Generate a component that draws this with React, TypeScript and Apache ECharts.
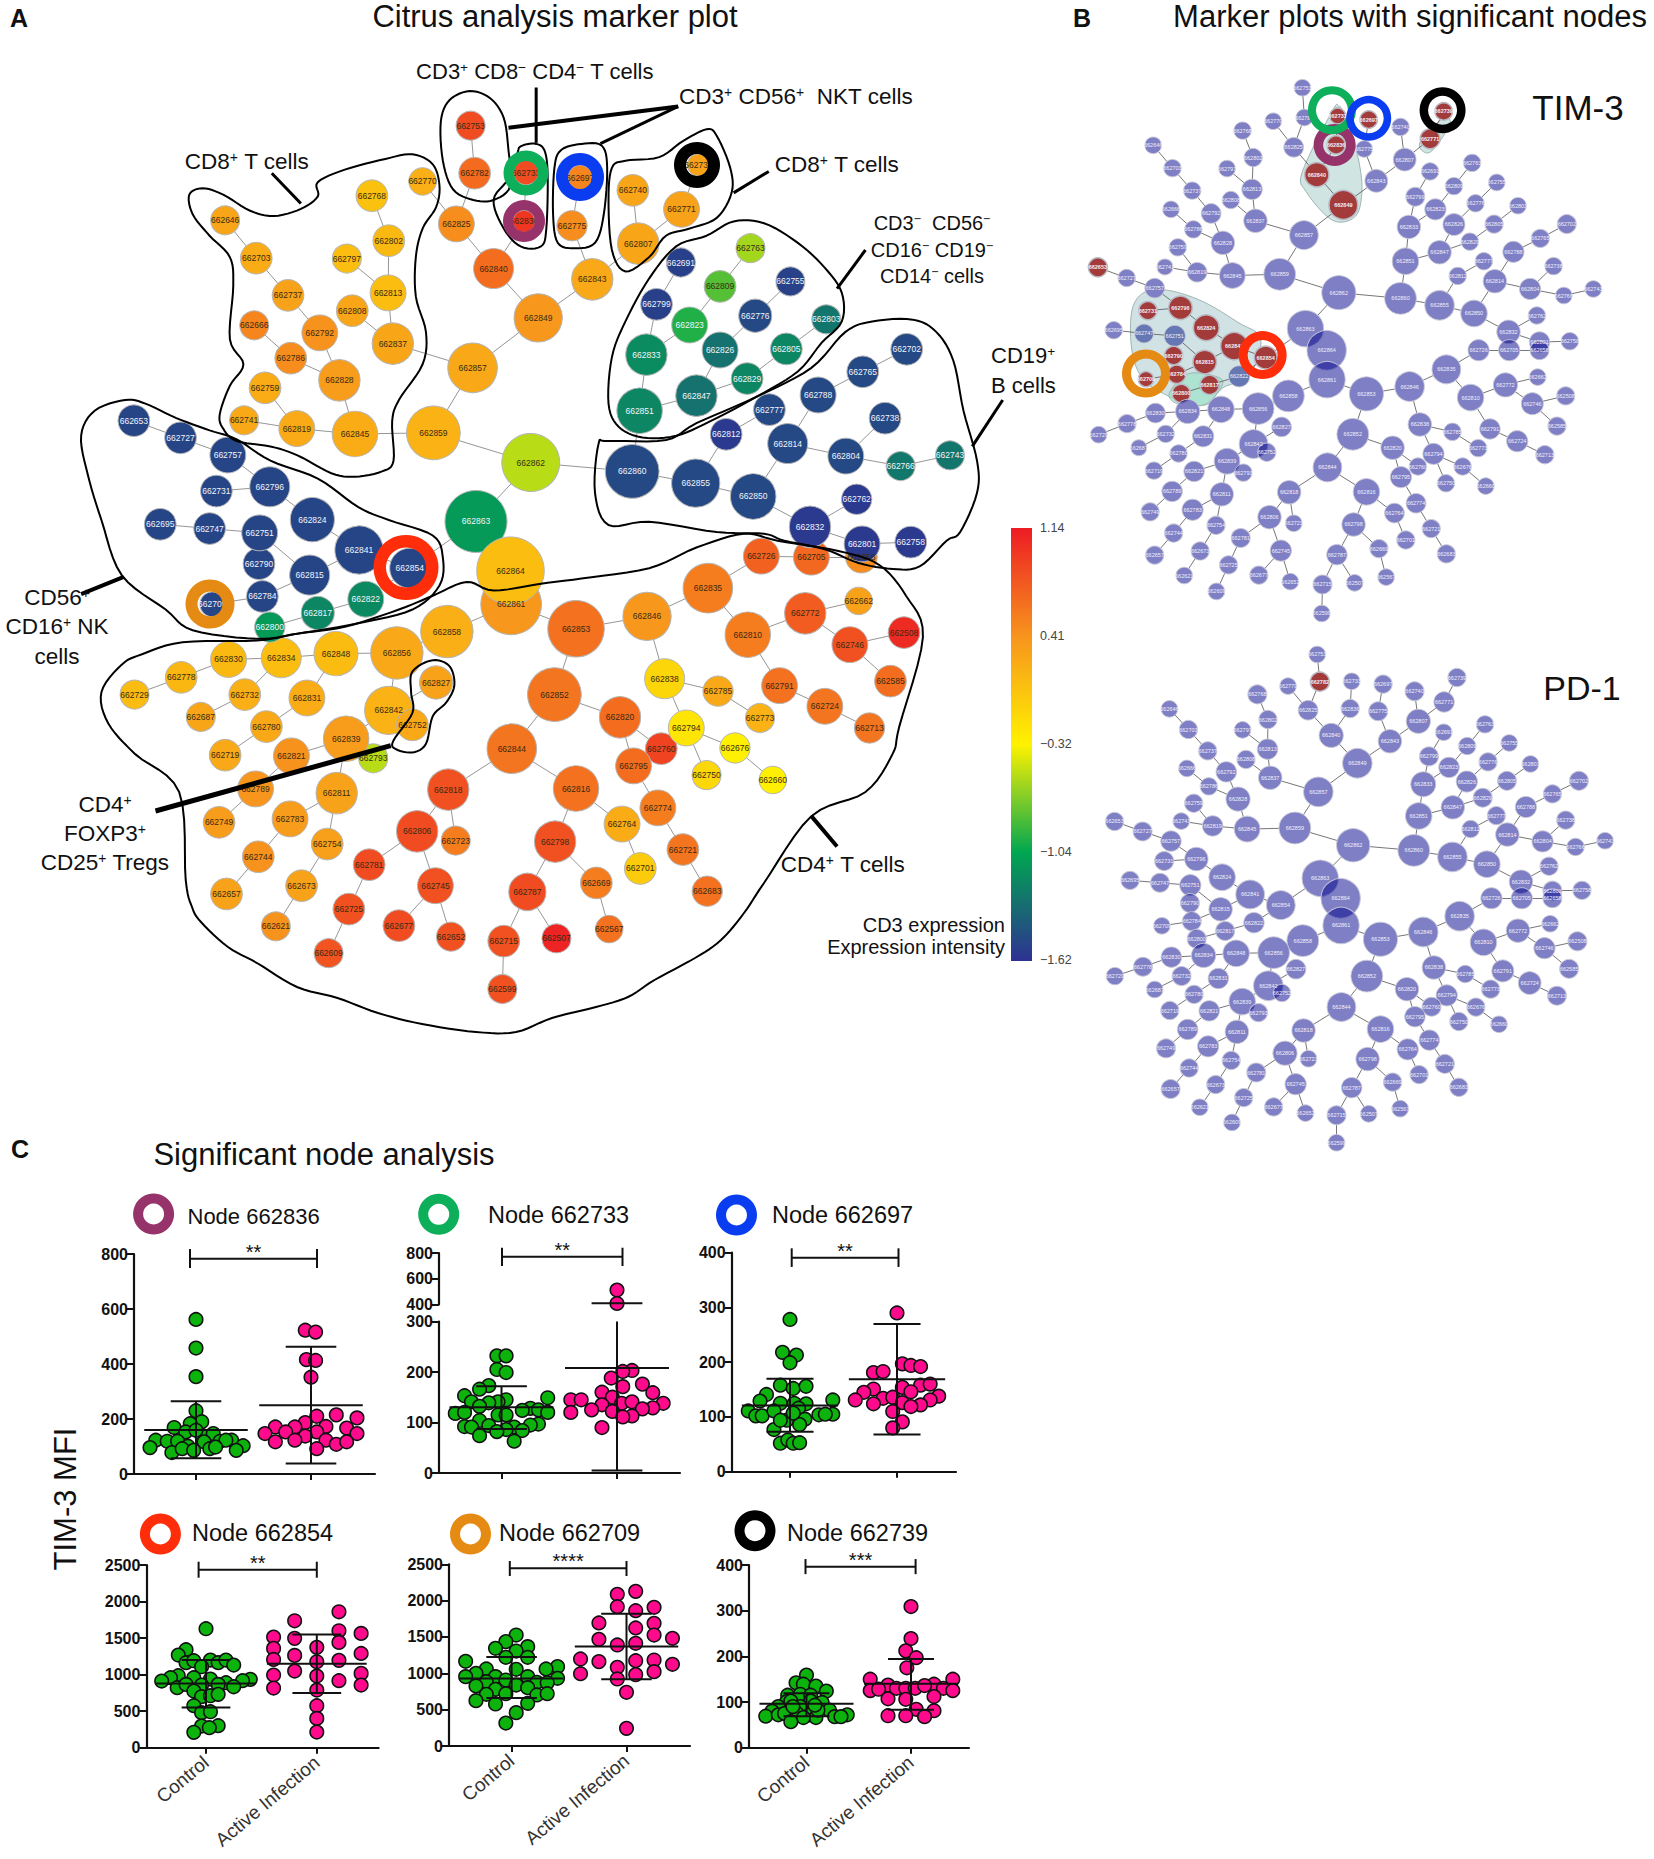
import React, { useEffect, useRef } from "react";
import * as echarts from "echarts";

const FONT = '"Liberation Sans", Arial, sans-serif';

// ---- network: short id (662000 + n), layout x, layout y, diameter, CD3 expression
const nodesUpperA: number[][] = [
  [753,696,352,42,0.85],[782,702,485,46,0.66],[733,778,483,36,0.85],[836,775,620,32,0.98],[697,858,497,36,0.5],[775,846,632,44,0.45],
  [770,625,508,40,0.2],[825,675,627,52,0.45],[840,730,752,58,0.65],[843,876,782,60,0.25],[849,796,890,70,0.38],[807,944,682,60,0.28],
  [740,936,533,46,0.28],[771,1008,586,52,0.3],[739,1033,462,32,0.3],[763,1110,695,42,-0.58],[691,1007,735,42,-1.55],[809,1065,802,46,-0.8],
  [755,1169,788,42,-1.54],[799,971,852,46,-1.55],[776,1117,884,48,-1.5],[803,1222,894,42,-1.28],[823,1020,910,52,-0.95],[833,956,993,60,-1.17],
  [826,1065,980,52,-1.3],[805,1163,977,46,-1.2],[829,1105,1060,46,-1.2],[847,1030,1108,60,-1.3],[851,946,1150,66,-1.2],[702,1341,978,46,-1.5],
  [765,1276,1041,46,-1.5],[788,1210,1106,52,-1.5],[738,1309,1171,46,-1.5],[777,1138,1147,46,-1.5],[812,1074,1216,46,-1.58],[814,1165,1242,58,-1.5],
  [804,1251,1277,52,-1.5],[766,1332,1305,42,-1.27],[743,1405,1275,42,-1.28],[860,935,1320,78,-1.5],[855,1029,1353,70,-1.5],[850,1114,1390,66,-1.5],
  [762,1267,1398,44,-1.58],[832,1198,1475,60,-1.58],[801,1275,1523,52,-1.58],[758,1347,1518,46,-1.58],[862,785,1295,84,-0.52],[859,641,1212,78,0.18],
  [857,699,1030,72,0.25],[845,525,1215,66,0.22],[819,439,1200,52,0.24],[741,361,1177,42,0.25],[759,392,1086,46,0.22],[828,502,1065,60,0.35],
  [786,430,1003,46,0.45],[792,473,932,52,0.42],[666,376,911,42,0.5],[737,426,827,46,0.3],[703,379,723,46,0.22],[646,333,617,42,0.28],
  [837,581,962,60,0.28],[808,521,870,46,0.28],[813,574,820,52,0.08],[797,513,724,42,0.08],[802,575,674,46,0.12],[768,550,548,46,0.06],
  [653,198,1178,46,-1.52],[727,267,1226,46,-1.52],[757,337,1274,52,-1.52],[731,320,1375,46,-1.52],[796,399,1363,58,-1.52],[695,237,1468,46,-1.52],
  [747,310,1480,46,-1.52],[751,384,1492,52,-1.52],[824,462,1455,64,-1.52],[841,531,1540,70,-1.52],
];
const nodesLowerA: number[][] = [
  [658,1274,108,46,0.45],[726,1126,105,52,0.72],[705,1200,108,52,0.68],[861,756,245,88,0.38],[853,852,316,82,0.62],[858,661,324,76,0.2],
  [856,587,386,76,0.25],[848,497,388,64,0.1],[834,416,400,58,0.08],[830,338,405,52,0.12],[778,268,457,46,0.14],[729,199,507,42,0.1],
  [732,362,507,46,0.2],[831,454,517,52,0.22],[687,297,572,42,0.28],[780,394,600,46,0.25],[719,333,683,46,0.25],[821,431,685,52,0.42],
  [793,552,692,42,-0.52],[842,575,553,70,0.18],[827,645,472,48,0.3],[752,610,595,46,0.25],[839,512,635,66,0.35],[789,378,781,52,0.4],
  [811,498,793,60,0.3],[749,324,878,46,0.35],[783,429,868,52,0.35],[744,382,978,46,0.42],[754,484,941,46,0.32],[657,335,1086,46,0.3],
  [673,446,1062,46,0.3],[621,408,1180,42,0.42],[844,757,664,72,0.6],[852,820,507,78,0.6],[820,917,573,60,0.65],[760,978,664,46,0.9],
  [795,937,714,52,0.65],[818,663,783,60,0.82],[816,852,780,66,0.62],[806,617,904,60,0.85],[723,674,931,42,0.55],[781,546,1001,46,0.85],
  [745,644,1062,52,0.82],[725,516,1130,46,0.82],[677,590,1178,46,0.85],[652,667,1210,42,0.82],[609,486,1258,42,0.8],[798,821,934,60,0.82],
  [764,920,883,52,0.22],[774,973,836,52,0.55],[701,947,1012,46,-0.02],[721,1010,957,46,0.6],[669,882,1054,46,0.55],[683,1046,1078,44,0.62],
  [787,780,1080,54,0.85],[567,901,1188,40,0.62],[715,745,1223,46,0.82],[507,823,1215,42,1.1],[599,743,1362,42,0.82],[846,957,280,70,0.38],
  [838,983,461,58,-0.1],[785,1062,497,44,0.25],[794,1015,604,52,-0.22],[773,1124,575,42,0.18],[676,1087,662,44,-0.3],[750,1045,741,42,-0.12],
  [660,1143,755,40,-0.3],[835,1047,198,72,0.55],[810,1106,333,66,0.55],[772,1191,271,60,0.75],[662,1270,235,40,0.3],[746,1257,362,52,0.82],
  [508,1337,327,46,1.05],[585,1317,468,46,0.65],[791,1153,481,52,0.62],[724,1220,541,52,0.6],[713,1286,604,44,0.6],[854,606,140,58,-1.52],
  [790,383,127,46,-1.52],[815,458,160,58,-1.52],[784,388,222,46,-1.52],[709,314,245,36,-1.52],[817,470,270,48,-1.2],[822,541,230,52,-1.18],[800,399,311,44,-1.1],
];
const nodesLastA: number[][] = [[863,704,1460,90,-1.1],[864,755,1598,98,0.08]];

const nodesTim3: number[][] = [
  [753,640,215,44],[782,645,288,44],[733,733,284,42],[697,815,293,46],[739,1013,273,46],[771,977,340,52],[770,563,297,44],[768,482,320,46],[646,246,356,44],
  [703,297,412,46],[802,510,386,48],[797,441,413,44],[825,617,361,52],[836,729,355,48],[775,803,365,44],[740,899,311,46],[807,910,391,60],[843,835,443,60],
  [840,678,428,64],[849,748,502,76],[737,349,467,46],[813,507,464,54],[808,451,490,46],[666,293,513,44],[792,399,523,52],[837,516,541,62],[786,352,562,46],
  [828,430,595,62],[857,644,576,76],[759,311,606,46],[741,277,654,42],[819,362,667,52],[845,455,675,68],[859,580,672,84],[653,100,655,50],[727,176,681,46],
  [757,250,706,52],[731,232,761,48],[796,318,754,62],[695,142,809,46],[747,222,817,50],[751,303,823,56],[824,386,803,68],[841,460,848,72],[854,543,876,60],
  [790,300,871,48],[815,382,887,62],[784,308,917,48],[709,227,929,40],[817,395,943,50],[800,320,964,48],[822,473,922,56],[862,736,717,90],[860,899,731,84],
  [851,912,640,70],[833,921,556,62],[799,938,482,50],[691,977,420,46],[823,991,513,56],[809,1040,456,46],[763,1088,399,46],[847,1002,618,62],[826,1040,550,58],
  [776,1097,498,46],[755,1153,447,44],[829,1082,592,46],[805,1146,549,48],[803,1209,504,44],[702,1338,549,50],[765,1268,584,48],[788,1197,617,56],[777,1119,640,46],
  [812,1050,676,46],[855,1002,748,78],[814,1148,689,62],[850,1093,768,70],[804,1241,708,56],[738,1303,652,46],[766,1330,724,44],[743,1408,708,44],[762,1259,773,46],
  [832,1184,813,62],[801,1266,838,54],[758,1346,836,46],[658,1266,858,50],[705,1186,858,56],[726,1105,858,56],[835,1020,905,76],[846,923,947,78],[853,809,965,90],
  [810,1084,974,70],[772,1176,943,64],[662,1261,924,44],[746,1247,989,58],[508,1335,970,48],[585,1312,1044,48],[791,1135,1051,54],[724,1207,1081,56],[713,1280,1114,48],
  [858,603,970,84],[856,523,1001,84],[848,425,1003,70],[834,337,1008,64],[830,252,1012,52],[778,177,1038,48],[729,102,1065,44],[732,279,1063,46],[687,208,1097,42],
  [831,378,1069,56],[780,313,1111,46],[719,248,1153,46],[821,354,1155,54],[842,511,1088,76],[827,585,1046,52],[752,546,1108,48],[839,441,1130,68],[793,484,1158,46],
  [789,296,1204,54],[811,427,1211,62],[749,238,1254,48],[783,350,1249,56],[744,300,1306,48],[754,412,1287,48],[657,250,1360,48],[673,370,1350,48],[621,328,1410,44],
  [852,773,1064,84],[820,878,1097,62],[844,706,1145,76],[818,605,1206,62],[816,809,1205,70],[806,553,1267,62],[723,617,1282,44],[781,477,1318,50],[745,583,1349,56],
  [725,445,1384,48],[677,525,1409,48],[652,608,1425,44],[609,413,1449,44],[798,775,1285,62],[764,883,1257,52],[774,940,1233,52],[701,913,1323,48],[721,980,1295,48],
  [669,842,1344,48],[683,1020,1357,48],[787,731,1359,54],[567,861,1414,44],[715,693,1432,50],[507,778,1428,44],[599,691,1503,44],[838,950,1040,62],[785,1036,1058,46],
  [794,986,1112,56],[773,1104,1098,46],[676,1063,1143,46],[750,1019,1184,46],[660,1124,1191,44],[760,945,1143,46],[795,900,1169,56],[863,648,805,96],[864,704,858,104],[861,705,930,96],
];
const nodesPd1: number[][] = [
  [753,679,42,44],[782,686,121,50],[770,602,134,44],[733,770,120,44],[836,766,199,48],[697,853,128,48],[775,840,207,50],[739,1048,109,48],[740,936,149,50],[771,1014,180,54],
  [807,946,236,64],[843,871,294,62],[825,655,204,52],[840,716,277,64],[849,785,358,78],[768,521,158,50],[802,549,231,48],[797,482,261,44],[646,289,200,44],[703,339,260,48],
  [737,390,322,48],[813,548,317,54],[808,491,347,48],[666,335,373,44],[792,439,383,54],[786,393,425,46],[837,555,400,62],[828,470,462,64],[857,682,441,78],[759,353,474,48],
  [741,320,526,44],[819,403,540,54],[845,494,549,68],[859,620,546,84],[653,144,527,48],[727,218,556,50],[757,293,584,54],[731,275,642,50],[796,360,636,62],[695,185,698,48],
  [747,264,705,50],[751,344,712,56],[824,428,689,70],[841,502,739,76],[854,583,770,76],[790,343,764,50],[815,424,782,62],[784,348,817,50],[709,269,830,44],[817,436,845,50],
  [800,361,868,50],[822,512,821,54],[862,774,596,88],[860,934,611,84],[851,947,511,70],[833,959,419,66],[799,974,338,50],[691,1013,268,44],[823,1027,370,54],[809,1075,308,46],
  [763,1122,245,46],[847,1037,486,62],[826,1074,411,56],[776,1130,354,48],[755,1186,299,44],[829,1116,458,50],[805,1180,409,50],[803,1242,360,44],[702,1370,409,50],[765,1300,447,48],
  [788,1230,485,56],[777,1152,510,48],[812,1084,549,46],[855,1036,630,78],[814,1181,565,62],[850,1127,651,70],[804,1274,585,56],[738,1335,523,48],[766,1361,601,46],[743,1439,583,44],
  [762,1291,657,48],[832,1217,702,62],[801,1300,728,50],[758,1378,727,48],[658,1300,750,50],[705,1219,750,56],[726,1139,750,56],[835,1055,802,78],[846,959,848,78],[853,846,869,90],
  [810,1118,878,70],[772,1209,844,62],[662,1294,824,44],[746,1279,895,56],[508,1366,875,50],[585,1344,955,50],[791,1169,961,58],[724,1240,996,60],[713,1312,1033,50],[858,641,873,84],
  [856,564,908,84],[848,465,910,70],[834,379,916,64],[830,294,921,54],[778,219,949,50],[729,145,976,46],[732,321,976,50],[687,250,1015,44],[831,418,983,54],[780,354,1029,48],
  [719,290,1076,48],[821,394,1077,54],[842,550,1004,78],[827,623,956,52],[752,586,1025,46],[839,481,1050,70],[793,524,1082,48],[789,337,1131,54],[811,467,1138,62],[749,280,1186,50],
  [783,391,1180,56],[744,341,1243,48],[754,452,1221,48],[657,292,1304,50],[673,411,1291,48],[621,369,1357,44],[852,810,976,84],[820,916,1014,62],[844,743,1066,76],[818,643,1134,62],
  [816,846,1130,70],[806,594,1200,64],[723,656,1216,44],[781,518,1256,50],[745,622,1290,56],[725,485,1329,48],[677,564,1356,48],[652,648,1374,44],[609,454,1401,44],[798,812,1217,62],
  [764,918,1189,56],[774,975,1162,54],[701,948,1262,48],[721,1016,1231,50],[669,878,1284,48],[683,1053,1299,48],[787,770,1300,54],[567,898,1361,44],[715,730,1380,50],[507,815,1376,44],
  [599,730,1460,44],[838,987,951,62],[785,1070,970,46],[794,1021,1032,56],[773,1137,1014,48],[676,1098,1066,48],[750,1053,1108,48],[660,1159,1116,44],[760,981,1065,50],[795,937,1094,54],
  [863,687,692,96],[864,741,750,104],[861,742,829,96],
];
const treeEdges: [number, number[]][] = [
  [862,[859,860,863]],[863,[854,864]],[864,[861]],[859,[857,845]],[857,[849,837]],[849,[843,840]],[843,[807,775]],[807,[740,771]],[771,[739]],[775,[697]],
  [840,[825,836]],[825,[770,782]],[782,[753]],[836,[733]],[837,[813,808]],[813,[802,797]],[802,[768]],[845,[819,828]],[819,[741,759]],[828,[786,792]],
  [786,[666]],[792,[737]],[737,[703]],[703,[646]],[860,[851,855]],[851,[833,847]],[833,[799,823]],[799,[691]],[823,[809]],[809,[763]],[847,[826,829]],
  [826,[776]],[776,[755]],[829,[805]],[805,[803]],[855,[850,812]],[812,[777]],[850,[814,832]],[814,[788,804]],[788,[765]],[765,[702]],[804,[738,766]],
  [766,[743]],[832,[762,801]],[801,[758]],[854,[841,822]],[841,[824,815]],[824,[796]],[796,[757,731]],[757,[727]],[727,[653]],[815,[751,784]],[751,[747,790]],
  [747,[695]],[784,[709]],[822,[817]],[817,[800]],[861,[858,853]],[858,[856]],[856,[848,842]],[848,[834,831]],[834,[830,732]],[830,[778]],[778,[729]],[732,[687]],
  [831,[780]],[780,[719]],[842,[827,752,839]],[839,[793,821,811]],[821,[789]],[789,[749]],[811,[783,754]],[783,[744]],[744,[657]],[754,[673]],[673,[621]],
  [853,[846,852]],[852,[844,820]],[844,[818,816]],[818,[806,723]],[806,[781,745]],[781,[725]],[725,[609]],[745,[677,652]],[816,[798,764]],[798,[787,669]],
  [787,[715,507]],[715,[599]],[669,[567]],[764,[701]],[820,[760,795]],[795,[774]],[774,[721]],[721,[683]],[846,[835,838]],[838,[785,794]],[785,[773]],[794,[676,750]],
  [676,[660]],[835,[726,810]],[726,[705]],[705,[658]],[810,[772,791]],[772,[662,746]],[746,[508,585]],[791,[724]],[724,[713]],
];
const tim3Significant = [653,733,697,739,771,836,840,849,731,796,824,841,854,790,815,784,709,817,800];
const tim3Shaded = [747,751,822];
const pd1Significant = [782];

// ---- colour scale
const colorTicks = [1.14, 0.41, -0.32, -1.04, -1.62];
const colorTickLabels = ["1.14", "0.41", "\u22120.32", "\u22121.04", "\u22121.62"];
const colorStops = ["#ED1C24", "#F7941D", "#FFF200", "#00A651", "#2E3192"];

// ---- panel C values: [x offset in the swarm, MFI]
const p1Control = [[0,562],[0,458],[0,354],[0,230],[.05,190],[-.05,183],[-.19,169],[-.09,153],[.05,141],[0,159],[.15,147],[-.35,123],[-.25,119],[-.16,119],[-.07,101],[.07,117],[.21,119],[.31,123],[.26,123],[-.4,96],[.41,103],[.35,86],[-.21,78],[-.12,92],[-.02,86],[.12,92],[.17,98]];
const p1Active = [[-.05,523],[.04,516],[-.04,416],[.04,413],[0,352],[.22,215],[.05,210],[.4,204],[-.05,187],[-.31,171],[-.14,171],[.13,173],[.31,167],[-.22,153],[.05,153],[-.05,138],[-.4,147],[.4,147],[-.31,117],[-.14,123],[.13,123],[.22,108],[.31,117],[.05,92]];
const p2Control = [[-.04,232],[.04,232],[-.04,205],[.04,199],[-.11,173],[-.19,166],[-.32,153],[.4,149],[-.26,141],[.04,145],[-.03,141],[-.11,139],[-.19,132],[.25,128],[.32,125],[.18,124],[-.4,118],[-.32,120],[.4,120],[-.03,115],[.04,115],[-.19,104],[.32,97],[.25,95],[-.32,92],[-.26,91],[-.11,94],[.11,91],[.04,86],[-.04,82],[.18,84],[-.19,74],[.11,63]];
const p2Active = [[.13,203],[.05,201],[-.05,188],[.22,176],[.05,171],[.31,159],[-.13,160],[-.04,150],[-.4,145],[-.31,145],[-.13,135],[.04,138],[.13,141],[.4,138],[.31,129],[.22,127],[-.22,125],[-.4,120],[-.04,122],[.13,113],[.05,111],[-.13,90]];
const p2ActiveHigh = [[0,512],[0,408]];
const p3Control = [[0,278],[-.07,218],[.06,213],[0,199],[-.09,158],[.03,152],[.15,156],[-.22,141],[-.28,129],[.4,131],[-.09,125],[.04,125],[.15,124],[-.39,111],[-.32,102],[-.26,102],[-.15,111],[.08,116],[.27,104],[.4,105],[.33,105],[.14,96],[-.03,94],[.09,86],[-.15,77],[-.09,52],[-.02,58],[.03,52],[.09,53],[-.09,94],[.03,107]];
const p3Active = [[0,290],[.05,197],[.13,194],[.22,192],[-.22,181],[-.13,183],[.22,158],[.31,160],[.05,154],[.13,146],[-.22,151],[-.31,145],[.39,138],[.31,131],[-.39,131],[-.13,134],[-.04,136],[-.22,124],[.05,126],[.22,122],[.13,119],[-.04,110],[.05,91],[-.04,80]];
const p4Control = [[0,1628],[-.18,1341],[-.25,1268],[-.18,1163],[-.11,1190],[.04,1199],[.11,1163],[.18,1199],[.25,1131],[-.04,1108],[-.25,985],[-.32,958],[-.4,912],[-.11,958],[.04,939],[.4,935],[.33,917],[.18,889],[-.26,821],[-.18,866],[-.04,857],[.11,866],[.25,834],[-.11,775],[-.04,698],[.04,711],[.11,730],[-.11,575],[-.04,479],[.04,492],[-.04,296],[.11,301],[.03,274],[-.11,210]];
const p4Active = [[.2,1860],[-.2,1737],[.2,1600],[.4,1564],[-.39,1514],[-.2,1496],[.2,1441],[0,1373],[-.39,1359],[.4,1290],[-.2,1263],[-.39,1208],[0,1176],[.2,1195],[-.2,1049],[.4,1017],[-.39,994],[0,980],[.2,917],[.4,857],[-.39,816],[0,789],[0,575],[0,401],[0,214]];
const p5Control = [[.04,1527],[-.05,1436],[.14,1367],[-.14,1344],[.04,1307],[-.05,1220],[.14,1220],[-.4,1165],[.4,1092],[-.22,1060],[.04,1055],[.3,1060],[-.31,1000],[-.4,954],[-.14,954],[.14,954],[.4,931],[-.22,885],[-.05,908],[.04,839],[.22,876],[.31,871],[-.31,826],[-.14,780],[.14,803],[-.22,711],[-.05,720],[.22,702],[.31,720],[-.31,624],[-.14,578],[.14,587],[.04,459],[-.05,316]];
const p5Active = [[.08,2128],[-.08,2087],[-.08,1917],[.08,1862],[.24,1908],[-.24,1693],[.24,1688],[.08,1624],[.24,1527],[-.24,1468],[.4,1482],[-.08,1390],[.08,1413],[-.4,1197],[-.24,1161],[.08,1174],[.24,1183],[.4,1124],[-.08,1083],[-.4,995],[.08,982],[.24,1023],[-.08,922],[0,739],[0,243]];
const p6Control = [[0,159],[-.1,142],[-.03,139],[.09,135],[.19,124],[-.18,115],[-.06,117],[.04,115],[-.19,101],[-.15,102],[.04,102],[.15,99],[-.27,90],[-.06,90],[.22,82],[-.33,80],[-.39,69],[-.27,72],[-.21,75],[-.09,75],[.03,72],[.09,66],[-.03,66],[.27,68],[.39,72],[-.15,57],[.33,68],[.11,82],[-.13,90],[.08,93]];
const p6Active = [[0,309],[0,239],[-.05,212],[.05,197],[-.04,175],[-.39,150],[.4,150],[-.22,137],[.22,139],[-.39,125],[-.31,128],[-.14,130],[-.05,130],[.04,130],[.13,136],[.31,130],[.4,125],[-.22,107],[-.05,106],[.22,112],[.05,84],[.22,81],[-.22,70],[-.05,70],[.13,68]];

const groupNames = ["Control", "Active Infection"];

// ---- panel C layout
const panels = [
  { node: "Node 662836", ring: "#96336B", stars: "**", ctrl: p1Control, act: p1Active, stats: [[160,265,57],[250,463,38]], left: 134, right: 375, top: 1254, bottom: 1474, t1: 196, t2: 311, max: 800, step: 200, bracket: [190,317,783,818,749], ringAt: [153.6,1214], textAt: [187.5,1216], labels: false },
  { node: "Node 662733", ring: "#0DAF5A", stars: "**", ctrl: p2Control, act: p2Active, stats: [[130,172,87],[208,300,5]], left: 439, right: 680, top: 1321.5, bottom: 1473, t1: 501.5, t2: 617, max: 300, step: 100, bracket: null, ringAt: [438.7,1214.3], textAt: [488,1215], labels: false },
  { node: "Node 662697", ring: "#0A3CF0", stars: "**", ctrl: p3Control, act: p3Active, stats: [[121,170,73],[169,270,68]], left: 731.6, right: 956, top: 1252.7, bottom: 1471.7, t1: 790, t2: 897, max: 400, step: 100, bracket: [791.7,898.5,391,408,374], ringAt: [736.5,1215], textAt: [772,1215], labels: false },
  { node: "Node 662854", ring: "#FF2D0A", stars: "**", ctrl: p4Control, act: p4Active, stats: [[880,1200,550],[1150,1550,750]], left: 146.4, right: 378.6, top: 1565, bottom: 1747.7, t1: 206, t2: 316.8, max: 2500, step: 500, bracket: [198.6,316.8,2436,2545,2326], ringAt: [160.4,1534], textAt: [192,1533], labels: true },
  { node: "Node 662709", ring: "#E58A12", stars: "****", ctrl: p5Control, act: p5Active, stats: [[930,1225,660],[1370,1820,920]], left: 449, right: 690, top: 1564.3, bottom: 1746, t1: 511.6, t2: 626.5, max: 2500, step: 500, bracket: [509.8,626.5,2445,2545,2339], ringAt: [470.5,1534], textAt: [499,1533], labels: true },
  { node: "Node 662739", ring: "#000000", stars: "***", ctrl: p6Control, act: p6Active, stats: [[96,119,69],[140,194,83]], left: 749, right: 969, top: 1565, bottom: 1747.7, t1: 806.5, t2: 911, max: 400, step: 100, bracket: [805.5,915.6,396,413,380], ringAt: [755,1530.7], textAt: [787,1533], labels: true },
];

const U = (x: number, y: number) => [x / 1.479, y / 2.8];
const L = (x: number, y: number) => [x / 1.479, 520 + y / 2.904];
const zU = (pts: number[][]) => pts.map((p) => U(p[0], p[1]));
const zL = (pts: number[][]) => pts.map((p) => L(p[0], p[1]));
const zB = (pts: number[][]) => pts.map((p) => [1060 + p[0] / 2.64, p[1] / 2.45]);

// closed curve through every outline point
const closedCurve = (pts: number[][]) => {
  const out: number[][] = [];
  const n = pts.length;
  for (let i = 0; i < n; i++) {
    const p0 = pts[(i + n - 1) % n], p1 = pts[i], p2 = pts[(i + 1) % n], p3 = pts[(i + 2) % n];
    for (let k = 0; k < 6; k++) {
      const t = k / 6, t2 = t * t, t3 = t2 * t;
      const f = (a: number, b: number, c: number, d: number) => 0.5 * (2 * b + (c - a) * t + (2 * a - 5 * b + 4 * c - d) * t2 + (3 * b - a - 3 * c + d) * t3);
      out.push([f(p0[0], p1[0], p2[0], p3[0]), f(p0[1], p1[1], p2[1], p3[1])]);
    }
  }
  return out;
};

const colorOf = (v: number) => {
  const asc = colorTicks.slice().reverse();
  const cols = colorStops.slice().reverse();
  let i = 0;
  while (i < asc.length - 2 && v > asc[i + 1]) i++;
  const t = Math.max(0, Math.min(1, (v - asc[i]) / (asc[i + 1] - asc[i])));
  return echarts.color.lerp(t, [cols[i], cols[i + 1]]) as string;
};
const idName = (n: number) => String(662000 + n);
const allLinks = treeEdges.flatMap(([p, cs]) => cs.map((c) => ({ source: idName(p), target: idName(c) })));

function buildOption() {
  const aNodes = [
    ...nodesLowerA.map((n) => { const p = L(n[1], n[2]); return { id: n[0], x: p[0], y: p[1], d: n[3] / 1.45, v: n[4] }; }),
    ...nodesUpperA.map((n) => { const p = U(n[1], n[2]); return { id: n[0], x: p[0], y: p[1], d: n[3] / 1.45, v: n[4] }; }),
    ...nodesLastA.map((n) => { const p = U(n[1], n[2]); return { id: n[0], x: p[0], y: p[1], d: n[3] / 1.45, v: n[4] }; }),
  ];
  const series: any[] = [];
  series.push({
    type: "graph", coordinateSystem: "cartesian2d", xAxisIndex: 0, yAxisIndex: 0, layout: "none", silent: true, z: 2,
    data: aNodes.map((n) => ({
      name: idName(n.id), value: [n.x, n.y], symbolSize: n.d,
      itemStyle: { color: colorOf(n.v), borderColor: "#b5b5b5", borderWidth: 1 },
      label: { show: true, position: "inside", formatter: "{b}", overflow: "none", fontSize: 8.5, fontFamily: FONT, color: n.v < -0.9 ? "#f2f4fb" : "#3b2a12" },
    })),
    links: allLinks,
    lineStyle: { color: "#8a8a8a", width: 0.9, opacity: 1, curveness: 0 },
  });

  const addMarkerNet = (table: number[][], ox: number, oy: number, sx: number, sy: number, red: number[], shaded: number[]) => {
    const pts = table.map((n) => ({ id: n[0], x: ox + n[1] / sx, y: oy + n[2] / sy, d: n[3] / sx }));
    series.push({
      type: "graph", coordinateSystem: "cartesian2d", xAxisIndex: 0, yAxisIndex: 0, layout: "none", silent: true, z: 2,
      data: pts.map((n) => ({ name: idName(n.id), value: [n.x, n.y], symbolSize: n.d, itemStyle: { color: "#fff", borderWidth: 0 }, label: { show: false } })),
      links: allLinks,
      lineStyle: { color: "#666", width: 0.9, opacity: 1, curveness: 0 },
    });
    series.push({
      type: "scatter", xAxisIndex: 0, yAxisIndex: 0, silent: true, z: 3, clip: false,
      data: pts.map((n) => ({
        name: idName(n.id), value: [n.x, n.y], symbolSize: n.d,
        itemStyle: red.includes(n.id)
          ? { color: "#A33B3B", borderColor: "#b9b9c4", borderWidth: 1.5, opacity: 1 }
          : { color: shaded.includes(n.id) ? "rgba(0,30,130,0.6)" : "rgba(0,0,140,0.5)", borderColor: "rgba(200,200,215,0.9)", borderWidth: 1, opacity: 1 },
        label: { show: false },
      })),
    });
    // node names, drawn as free text so a small node never shortens them
    series.push({
      type: "custom", xAxisIndex: 0, yAxisIndex: 0, silent: true, z: 4, clip: false,
      encode: { x: 0, y: 1 }, data: pts.map((n) => [n.x, n.y, n.id]),
      renderItem: (_: any, api: any) => {
        const a = api.coord([api.value(0), api.value(1)]);
        const id = api.value(2);
        return { type: "text", style: { x: a[0], y: a[1], text: idName(id), fill: "#f0f0fa", font: `${red.includes(id) ? "bold " : ""}5.5px ${FONT}`, align: "center", verticalAlign: "middle" } };
      },
    });
  };
  addMarkerNet(nodesTim3, 1060, 0, 2.64, 2.45, tim3Significant, tim3Shaded);
  addMarkerNet(nodesPd1, 1060, 640, 2.64, 2.904, pd1Significant, []);

  const grids: any[] = [{ left: 0, top: 0, width: 1654, height: 1859, show: false }];
  const xAxes: any[] = [{ type: "value", gridIndex: 0, min: 0, max: 1654, show: false }];
  const yAxes: any[] = [{ type: "value", gridIndex: 0, min: 0, max: 1859, inverse: true, show: false }];

  const axisStyle = { lineStyle: { color: "#111", width: 2.2 } };
  const tickStyle = { lineStyle: { color: "#111", width: 2 } };
  const yLabel = { color: "#111", fontSize: 16, fontWeight: "bold", fontFamily: FONT, margin: 6, formatter: (v: number) => String(v) };
  const segSeries = (xi: number, rows: number[][], width: number) => ({
    type: "custom", xAxisIndex: xi, yAxisIndex: xi, silent: true, z: 6, clip: false,
    encode: { x: [0, 2], y: [1, 3] }, data: rows,
    renderItem: (_: any, api: any) => {
      const a = api.coord([api.value(0), api.value(1)]);
      const b = api.coord([api.value(2), api.value(3)]);
      return { type: "line", shape: { x1: a[0], y1: a[1], x2: b[0], y2: b[1] }, style: { stroke: "#111", lineWidth: width } };
    },
  });
  const dots = (xi: number, center: number, pts: number[][], color: string) => ({
    type: "scatter", xAxisIndex: xi, yAxisIndex: xi, silent: true, z: 5, clip: false, symbolSize: 13.5,
    itemStyle: { color, borderColor: "#111", borderWidth: 1.6, opacity: 1 },
    data: pts.map((p) => [center + p[0], p[1]]),
  });
  const statRows = (c: number, s: number[], hiCap = true) => {
    const rows = [[c - 0.45, s[0], c + 0.45, s[0]], [c, s[2], c, s[1]], [c - 0.22, s[2], c + 0.22, s[2]]];
    if (hiCap) rows.push([c - 0.22, s[1], c + 0.22, s[1]]);
    return rows;
  };
  const starSeries = (xi: number, x: number, y: number, text: string) => ({
    type: "custom", xAxisIndex: xi, yAxisIndex: xi, silent: true, z: 6, clip: false, encode: { x: 0, y: 1 }, data: [[x, y]],
    renderItem: (_: any, api: any) => {
      const a = api.coord([api.value(0), api.value(1)]);
      return { type: "text", style: { x: a[0], y: a[1] - 7, text, fill: "#111", font: `20px ${FONT}`, align: "center", verticalAlign: "middle" } };
    },
  });

  panels.forEach((p, i) => {
    const xi = grids.length;
    const unit = p.t2 - p.t1;
    const xMin = 1 - (p.t1 - p.left) / unit;
    const xMax = 2 + (p.right - p.t2) / unit;
    const toX = (px: number) => 1 + (px - p.t1) / unit;
    grids.push({ left: p.left, top: p.top, width: p.right - p.left, height: p.bottom - p.top, show: false });
    xAxes.push({
      type: "value", gridIndex: xi, min: xMin, max: xMax, splitLine: { show: false },
      axisLine: { show: true, onZero: false, ...axisStyle },
      axisTick: { show: true, length: 6, customValues: [1, 2], ...tickStyle },
      axisLabel: { show: p.labels, customValues: [1, 2], rotate: 40, margin: 12, fontSize: 19, fontFamily: FONT, color: "#333", formatter: (v: number) => groupNames[v - 1] },
    });
    yAxes.push({
      type: "value", gridIndex: xi, min: 0, max: p.max, interval: p.step, splitLine: { show: false },
      axisLine: { show: true, ...axisStyle }, axisTick: { show: true, length: 7, ...tickStyle }, axisLabel: yLabel,
    });
    series.push(dots(xi, 1, p.ctrl, "#0CB30C"));
    series.push(dots(xi, 2, p.act, "#FF0A8C"));
    const brokenTop = i === 1;
    series.push(segSeries(xi, [...statRows(1, p.stats[0]), ...statRows(2, p.stats[1], !brokenTop)], 2));
    if (p.bracket) {
      const b = p.bracket;
      const a1 = toX(b[0]), a2 = toX(b[1]);
      series.push(segSeries(xi, [[a1, b[2], a2, b[2]], [a1, b[3], a1, b[4]], [a2, b[3], a2, b[4]]], 2));
      series.push(starSeries(xi, (a1 + a2) / 2, b[2], p.stars));
    }
    if (brokenTop) {
      const ux = grids.length;
      grids.push({ left: p.left, top: 1253, width: p.right - p.left, height: 51.5, show: false });
      xAxes.push({ type: "value", gridIndex: ux, min: xMin, max: xMax, show: false, splitLine: { show: false } });
      yAxes.push({
        type: "value", gridIndex: ux, min: 400, max: 800, interval: 200, splitLine: { show: false },
        axisLine: { show: true, ...axisStyle }, axisTick: { show: true, length: 7, ...tickStyle }, axisLabel: yLabel,
      });
      series.push(dots(ux, 2, p2ActiveHigh, "#FF0A8C"));
      series.push(segSeries(ux, [[2 - 0.22, 410, 2 + 0.22, 410]], 2));
      const a1 = toX(502), a2 = toX(622.5);
      series.push(segSeries(ux, [[a1, 771, a2, 771], [a1, 841, a1, 699], [a2, 841, a2, 699]], 2));
      series.push(starSeries(ux, (a1 + a2) / 2, 771, p.stars));
    }
  });

  // ---- graphic layer
  const g: any[] = [];
  const blob = (points: number[][]) => g.push({ type: "polygon", z: 40, silent: true, shape: { points: closedCurve(points) }, style: { fill: "none", stroke: "#000", lineWidth: 2 } });
  const seg = (a: number[], b: number[], w = 3) => g.push({ type: "line", z: 41, silent: true, shape: { x1: a[0], y1: a[1], x2: b[0], y2: b[1] }, style: { stroke: "#000", lineWidth: w } });
  const ring = (c: number[], r: number, r0: number, fill: string, z = 42) => g.push({ type: "ring", z, silent: true, shape: { cx: c[0], cy: c[1], r, r0 }, style: { fill } });
  const txt = (x: number, y: number, text: string, size: number, opt: any = {}) => g.push({
    type: "text", z: 45, silent: true, x, y, rotation: opt.rotation || 0,
    style: {
      text: text.replace(/\^(.)/g, "{s|$1}"), font: `${opt.bold ? "bold " : ""}${size}px ${FONT}`, fill: opt.fill || "#111",
      align: opt.align || "center", verticalAlign: "middle",
      rich: { s: { fontSize: size * 0.62, fontFamily: "Liberation Sans", verticalAlign: "top", fill: opt.fill || "#111" } },
    },
  });

  // shaded TIM-3 regions sit under the nodes
  const shade = (points: number[][], fill: string) => g.push({ type: "polygon", z: 0, silent: true, shape: { points: closedCurve(points) }, style: { fill, stroke: "#9fb5b2", lineWidth: 1 } });
  shade(zB([[735,260],[720,270],[640,420],[650,470],[720,540],[780,530],[797,470],[790,400],[770,330],[745,270]]), "rgba(150,195,190,0.45)");
  shade(zB([[190,760],[225,715],[290,712],[380,740],[470,790],[530,830],[500,920],[430,950],[390,990],[340,990],[285,970],[220,930],[190,860]]), "rgba(150,190,195,0.45)");
  shade(zB([[950,350],[1010,290],[1030,300],[1000,350],[970,375]]), "rgba(150,195,190,0.45)");
  shade(zB([[290,960],[340,915],[420,925],[425,950],[385,990],[340,992],[300,985]]), "rgba(140,225,190,0.5)");

  // population outlines in panel A
  blob(zU([[280,545],[300,527],[330,545],[370,590],[405,605],[445,585],[470,550],[470,510],[510,475],[570,445],[610,432],[640,460],[650,520],[645,580],[625,640],[615,720],[615,830],[630,930],[625,1020],[590,1120],[580,1180],[582,1290],[565,1320],[525,1335],[490,1325],[440,1275],[400,1250],[350,1235],[330,1200],[325,1160],[340,1080],[360,1020],[340,950],[345,800],[340,720],[310,660],[285,600]]));
  blob(zU([[652,340],[665,280],[695,255],[725,275],[745,330],[752,420],[755,520],[730,560],[700,560],[670,530],[655,450]]));
  blob(zU([[770,410],[790,402],[805,420],[810,490],[808,640],[800,690],[770,690],[745,640],[730,560],[752,500],[765,430]]));
  blob(zU([[820,470],[830,420],[860,403],[890,408],[898,470],[893,600],[880,680],[850,695],[825,680],[818,600]]));
  blob(zU([[905,470],[925,450],[975,440],[1010,395],[1045,362],[1060,380],[1080,470],[1082,540],[1060,610],[1020,640],[985,660],[960,720],[925,760],[905,700],[900,560]]));
  blob(zU([[1045,660],[1085,620],[1130,625],[1180,680],[1220,750],[1245,820],[1245,900],[1215,960],[1180,1040],[1120,1110],[1050,1180],[1000,1220],[950,1225],[915,1195],[900,1130],[905,1000],[925,900],[960,780],[1000,690]]));
  blob([...zU([[885,1245],[900,1235],[985,1232],[1030,1185],[1120,1110],[1200,1030],[1250,930],[1290,900],[1350,895],[1385,930],[1410,1010],[1425,1150],[1445,1290],[1445,1380],[1420,1490]]), ...zL([[1400,60],[1360,135],[1320,142],[1270,125],[1220,85],[1160,60],[1130,40],[1060,35],[960,5]]), ...zU([[900,1470],[880,1380]])]);
  blob([...zU([[120,1220],[140,1150],[185,1120],[215,1130],[260,1170],[310,1205],[350,1230],[400,1290],[470,1340],[530,1420]]), ...zL([[575,0],[640,45],[655,110],[650,190],[610,260],[530,300],[440,330],[380,345],[285,320],[245,260],[180,160],[150,0]]), ...zU([[130,1330]])]);
  blob([
    ...zL([[180,420],[150,500],[160,590],[200,680],[265,790]]),
    [185.7,880],[192,907],[201,922],[228,947],[257,963],[297,987],[337.5,998],[378,1013],[422,1024],[476,1032],[516,1032],[552,1018],[596,1007],[628,997],[654.5,980],[695,958],[721,940],[744,913],[764,883],
    ...zL([[1200,860],[1280,790],[1320,680],[1330,600],[1365,340],[1340,220],[1300,130],[1240,90],[1150,60],[1100,40],[1030,80],[960,140],[860,170],[800,185],[730,205],[690,180],[640,220],[590,260],[510,310],[440,330],[380,350],[270,355],[210,390]]),
  ]);
  blob(zL([[610,440],[640,407],[665,425],[672,480],[660,530],[640,570],[630,650],[610,675],[585,665],[582,640],[610,560],[608,500]]));

  // leader lines
  seg(U(793,245), U(793,400), 3);
  seg(U(752,358), U(1003,298), 4);
  seg(U(1003,298), U(888,402), 3);
  seg(U(402,485), U(445,570), 3);
  seg(U(1137,480), U(1085,540), 3);
  seg(U(1280,700), U(1238,808), 3);
  seg(U(1483,1120), U(1438,1250), 3);
  seg(L(183,165), L(120,215), 4);
  seg(L(578,655), L(230,845), 5);
  seg(L(1200,860), L(1238,948), 4);

  // rings in panels A and B
  ring([526,173], 22.5, 12, "#0DAF5A");
  ring([524,221], 21, 10.8, "#96336B");
  ring([580,177], 24, 12, "#0A3CF0");
  ring([697,165], 23, 11, "#000");
  ring([406,567.5], 32.5, 20, "#FF2D0A");
  ring([210,604], 24.5, 12.5, "#E58A12");
  const bc = (x: number, y: number) => [1060 + x / 2.64, y / 2.45];
  ring(bc(725,355), 21, 11.5, "#96336B");
  ring(bc(718,270), 24, 16, "#0DAF5A");
  ring(bc(815,290), 22.5, 15, "#0A3CF0");
  ring(bc(1010,270), 23, 14.5, "#000");
  ring(bc(535,870), 24, 15, "#FF2D0A");
  ring(bc(227,915), 24, 15, "#E58A12");

  // colour bar
  g.push({ type: "rect", z: 10, silent: true, shape: { x: 1011, y: 528, width: 21, height: 433 }, style: { fill: new echarts.graphic.LinearGradient(0, 0, 0, 1, colorStops.map((c, i) => ({ offset: i / 4, color: c }))) } });
  colorTickLabels.forEach((t, i) => txt(1040, 528 + i * 108, t, 12.5, { align: "left", fill: "#444" }));
  txt(1005, 925, "CD3 expression", 20, { align: "right" });
  txt(1005, 947, "Expression intensity", 20, { align: "right" });

  // titles and annotations
  txt(10, 18, "A", 25, { bold: true, align: "left" });
  txt(555, 16, "Citrus analysis marker plot", 31);
  txt(1073, 18, "B", 25, { bold: true, align: "left" });
  txt(1410, 16, "Marker plots with significant nodes", 31);
  txt(1578, 107, "TIM-3", 35);
  txt(1582, 688, "PD-1", 34);
  txt(11, 1149, "C", 25, { bold: true, align: "left" });
  txt(324, 1154, "Significant node analysis", 31);
  g.push({ type: "text", z: 45, silent: true, x: 65, y: 1499, rotation: Math.PI / 2, style: { text: "TIM-3 MFI", font: `31px ${FONT}`, fill: "#111", align: "center", verticalAlign: "middle" } });

  txt(535, 71, "CD3^+ CD8^\u2212 CD4^\u2212 T cells", 22);
  txt(796, 96, "CD3^+ CD56^+  NKT cells", 22.5);
  txt(247, 161, "CD8^+ T cells", 22.5);
  txt(837, 164, "CD8^+ T cells", 22.5);
  txt(932, 223, "CD3^\u2212  CD56^\u2212", 20);
  txt(932, 250, "CD16^\u2212 CD19^\u2212", 20);
  txt(932, 276, "CD14^\u2212 cells", 20);
  txt(991, 355, "CD19^+", 22, { align: "left" });
  txt(991, 385, "B cells", 22, { align: "left" });
  txt(57, 597, "CD56^+", 22.5);
  txt(57, 626, "CD16^+ NK", 22.5);
  txt(57, 656, "cells", 22.5);
  txt(105, 804, "CD4^+", 22.5);
  txt(105, 833, "FOXP3^+", 22.5);
  txt(105, 862, "CD25^+ Tregs", 22.5);
  txt(843, 864, "CD4^+ T cells", 22.5);

  // panel C headers
  panels.forEach((p, i) => {
    ring(p.ringAt, 20.5, 10.5, p.ring);
    txt(p.textAt[0], p.textAt[1], p.node, i === 0 ? 22 : 23.5, { align: "left" });
  });

  return { animation: false, backgroundColor: "#fff", grid: grids, xAxis: xAxes, yAxis: yAxes, series, graphic: { elements: g } };
}

export default function App() {
  const ref = useRef<HTMLDivElement>(null);
  useEffect(() => {
    if (!ref.current) return;
    const chart = echarts.init(ref.current, undefined, { renderer: "svg" });
    chart.setOption(buildOption() as any);
    return () => chart.dispose();
  }, []);
  return <div ref={ref} style={{ position: "absolute", left: 0, top: 0, width: 1654, height: 1859 }} />;
}
